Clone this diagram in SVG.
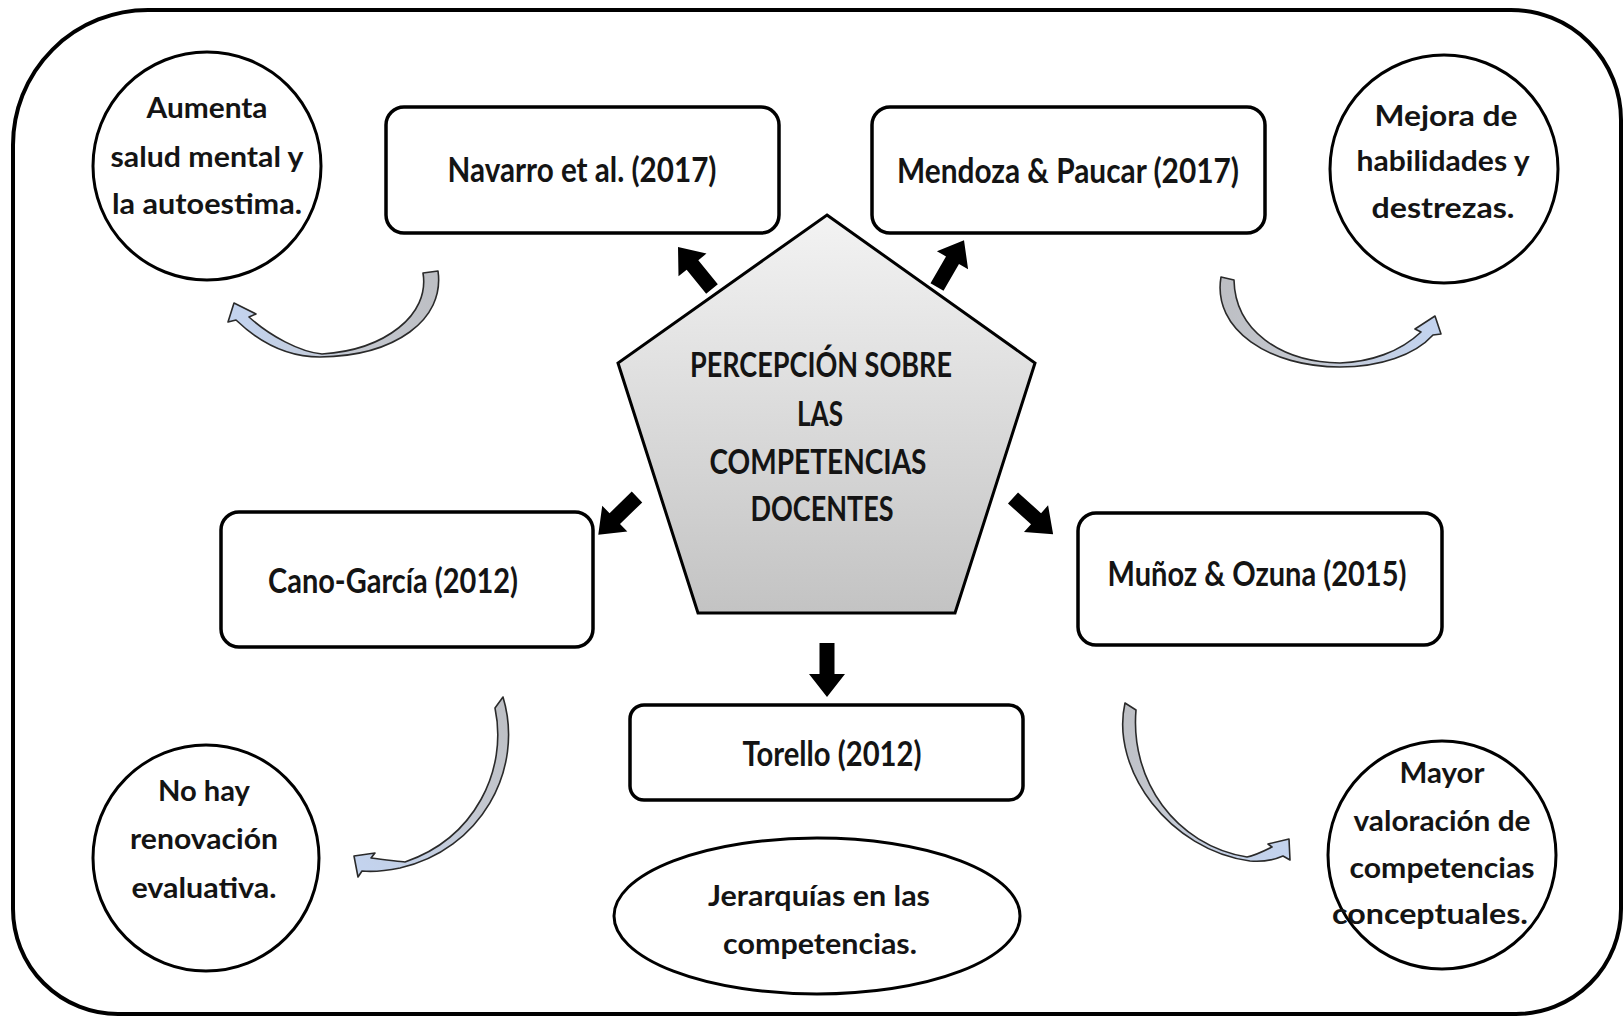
<svg xmlns="http://www.w3.org/2000/svg" xmlns:xlink="http://www.w3.org/1999/xlink" width="1623" height="1017" viewBox="0 0 1623 1017">
  <style>
    .frame { fill: none; stroke: #000; stroke-width: 4; }
    .node { fill: #fff; stroke: #000; stroke-width: 3.5; }
    .ring { fill: #fff; stroke: #000; stroke-width: 3; }
    .t { font-family: Lato, "Open Sans", "Liberation Sans", sans-serif; font-weight: 700; fill: #141414; text-anchor: middle; }
    .s { font-size: 28.5px; }
    .m { font-size: 33.5px; }
    .blk { fill: #000; }
    .curve { stroke: #2a2a2a; stroke-width: 1.6; stroke-linejoin: round; }
  </style>
  <defs>
    <linearGradient id="penta" x1="0" y1="0" x2="0" y2="1">
      <stop offset="0" stop-color="#f3f3f3"/>
      <stop offset="1" stop-color="#c3c3c3"/>
    </linearGradient>
    <linearGradient id="gTL" gradientUnits="userSpaceOnUse" x1="430" y1="272" x2="240" y2="312">
      <stop offset="0" stop-color="#bdbfc4"/>
      <stop offset="0.45" stop-color="#c4c8d0"/>
      <stop offset="1" stop-color="#c3d3ee"/>
    </linearGradient>
    <linearGradient id="gTR" gradientUnits="userSpaceOnUse" x1="1228" y1="278" x2="1430" y2="325">
      <stop offset="0" stop-color="#bdbfc4"/>
      <stop offset="0.45" stop-color="#c4c8d0"/>
      <stop offset="1" stop-color="#c3d3ee"/>
    </linearGradient>
    <linearGradient id="gBL" gradientUnits="userSpaceOnUse" x1="500" y1="700" x2="362" y2="864">
      <stop offset="0" stop-color="#bdbfc4"/>
      <stop offset="0.45" stop-color="#c4c8d0"/>
      <stop offset="1" stop-color="#c3d3ee"/>
    </linearGradient>
    <linearGradient id="gBR" gradientUnits="userSpaceOnUse" x1="1130" y1="706" x2="1282" y2="850">
      <stop offset="0" stop-color="#bdbfc4"/>
      <stop offset="0.45" stop-color="#c4c8d0"/>
      <stop offset="1" stop-color="#c3d3ee"/>
    </linearGradient>
    <!-- block arrow pointing along +x, tail at origin -->
    <path id="blockArrow" d="M0,-7.5 H31 V-18 L54,0 L31,18 V7.5 H0 Z"/>
  </defs>

  <rect width="1623" height="1017" fill="#fff"/>

  <!-- outer frame -->
  <path class="frame" d="M148,10 H1511 A110,110 0 0 1 1621,120 V909 A105,105 0 0 1 1516,1014 H118 A105,105 0 0 1 13,909 V145 A135,135 0 0 1 148,10 Z"/>

  <!-- connectors -->
  <g id="connectors">
    <use href="#blockArrow" class="blk" transform="translate(712,289) rotate(-129)"/>
    <use href="#blockArrow" class="blk" transform="translate(937,287) rotate(-60)"/>
    <use href="#blockArrow" class="blk" transform="translate(637,497) rotate(135.8)"/>
    <use href="#blockArrow" class="blk" transform="translate(1013,498) rotate(42)"/>
    <use href="#blockArrow" class="blk" transform="translate(827,643) rotate(90)"/>

    <path class="curve" fill="url(#gTL)" d="M438,271 C445,320 395,356 320,357 C290,357 262,345 236,320 L228,322 L234,303 L256,314 L249,317 C270,336 300,352 322,354 C385,350 430,315 423,273 Z"/>
    <path class="curve" fill="url(#gTR)" d="M1221,277 C1212,330 1270,367 1340,367 C1380,367 1415,355 1433,335 L1441,334 L1435,316 L1415,329 L1421,332 C1400,352 1370,362 1340,363 C1280,362 1235,330 1234,280 Z"/>
    <path class="curve" fill="url(#gBL)" d="M503,697 C525,770 480,850 400,868 C385,871 372,872 362,871 L358,877 L354,856 L375,853 L371,858 C385,860 398,861 405,862 C475,838 508,770 495,708 Z"/>
    <path class="curve" fill="url(#gBR)" d="M1125,703 C1110,770 1170,850 1250,861 C1262,862 1274,860 1283,856 L1290,860 L1289,839 L1268,844 L1272,847 C1262,852 1252,856 1247,857 C1175,845 1130,780 1136,710 Z"/>
  </g>

  <!-- central node -->
  <g id="center">
    <polygon points="827,215 1035,363 955,613 698,613 618,363" fill="url(#penta)" stroke="#000" stroke-width="3"/>
    <text class="t m" x="821" y="377" textLength="262" lengthAdjust="spacingAndGlyphs">PERCEPCIÓN SOBRE</text>
    <text class="t m" x="820" y="426" textLength="46" lengthAdjust="spacingAndGlyphs">LAS</text>
    <text class="t m" x="818" y="474" textLength="217" lengthAdjust="spacingAndGlyphs">COMPETENCIAS</text>
    <text class="t m" x="822" y="521" textLength="143" lengthAdjust="spacingAndGlyphs">DOCENTES</text>
  </g>

  <!-- author boxes -->
  <g id="navarro">
    <rect class="node" x="386" y="107" width="393" height="126" rx="18"/>
    <text class="t m" x="582" y="182" textLength="269" lengthAdjust="spacingAndGlyphs">Navarro et al. (2017)</text>
  </g>
  <g id="mendoza">
    <rect class="node" x="872" y="107" width="393" height="126" rx="18"/>
    <text class="t m" x="1068" y="183" textLength="342" lengthAdjust="spacingAndGlyphs">Mendoza &amp; Paucar (2017)</text>
  </g>
  <g id="cano">
    <rect class="node" x="221" y="512" width="372" height="135" rx="18"/>
    <text class="t m" x="393" y="593" textLength="250" lengthAdjust="spacingAndGlyphs">Cano-García (2012)</text>
  </g>
  <g id="munoz">
    <rect class="node" x="1078" y="513" width="364" height="132" rx="18"/>
    <text class="t m" x="1257" y="586" textLength="299" lengthAdjust="spacingAndGlyphs">Muñoz &amp; Ozuna (2015)</text>
  </g>
  <g id="torello">
    <rect class="node" x="630" y="705" width="393" height="95" rx="14"/>
    <text class="t m" x="832" y="766" textLength="179" lengthAdjust="spacingAndGlyphs">Torello (2012)</text>
  </g>

  <!-- findings -->
  <g id="salud">
    <circle class="ring" cx="207" cy="166" r="114"/>
    <text class="t s" x="207" y="118" textLength="121" lengthAdjust="spacingAndGlyphs">Aumenta</text>
    <text class="t s" x="207" y="167" textLength="193" lengthAdjust="spacingAndGlyphs">salud mental y</text>
    <text class="t s" x="207" y="214" textLength="190" lengthAdjust="spacingAndGlyphs">la autoestima.</text>
  </g>
  <g id="habilidades">
    <circle class="ring" cx="1444" cy="169" r="114"/>
    <text class="t s" x="1446" y="126" textLength="143" lengthAdjust="spacingAndGlyphs">Mejora de</text>
    <text class="t s" x="1443" y="171" textLength="173" lengthAdjust="spacingAndGlyphs">habilidades y</text>
    <text class="t s" x="1443" y="218" textLength="143" lengthAdjust="spacingAndGlyphs">destrezas.</text>
  </g>
  <g id="renovacion">
    <circle class="ring" cx="206" cy="858" r="113"/>
    <text class="t s" x="204" y="801" textLength="92" lengthAdjust="spacingAndGlyphs">No hay</text>
    <text class="t s" x="204" y="849" textLength="148" lengthAdjust="spacingAndGlyphs">renovación</text>
    <text class="t s" x="204" y="898" textLength="145" lengthAdjust="spacingAndGlyphs">evaluativa.</text>
  </g>
  <g id="valoracion">
    <circle class="ring" cx="1442" cy="855" r="114"/>
    <text class="t s" x="1442" y="783" textLength="85" lengthAdjust="spacingAndGlyphs">Mayor</text>
    <text class="t s" x="1442" y="831" textLength="177" lengthAdjust="spacingAndGlyphs">valoración de</text>
    <text class="t s" x="1442" y="878" textLength="185" lengthAdjust="spacingAndGlyphs">competencias</text>
    <text class="t s" x="1430" y="924" textLength="196" lengthAdjust="spacingAndGlyphs">conceptuales.</text>
  </g>
  <g id="jerarquias">
    <ellipse class="ring" cx="817" cy="916" rx="203" ry="78"/>
    <text class="t s" x="819" y="906" textLength="222" lengthAdjust="spacingAndGlyphs">Jerarquías en las</text>
    <text class="t s" x="820" y="954" textLength="194" lengthAdjust="spacingAndGlyphs">competencias.</text>
  </g>
</svg>
